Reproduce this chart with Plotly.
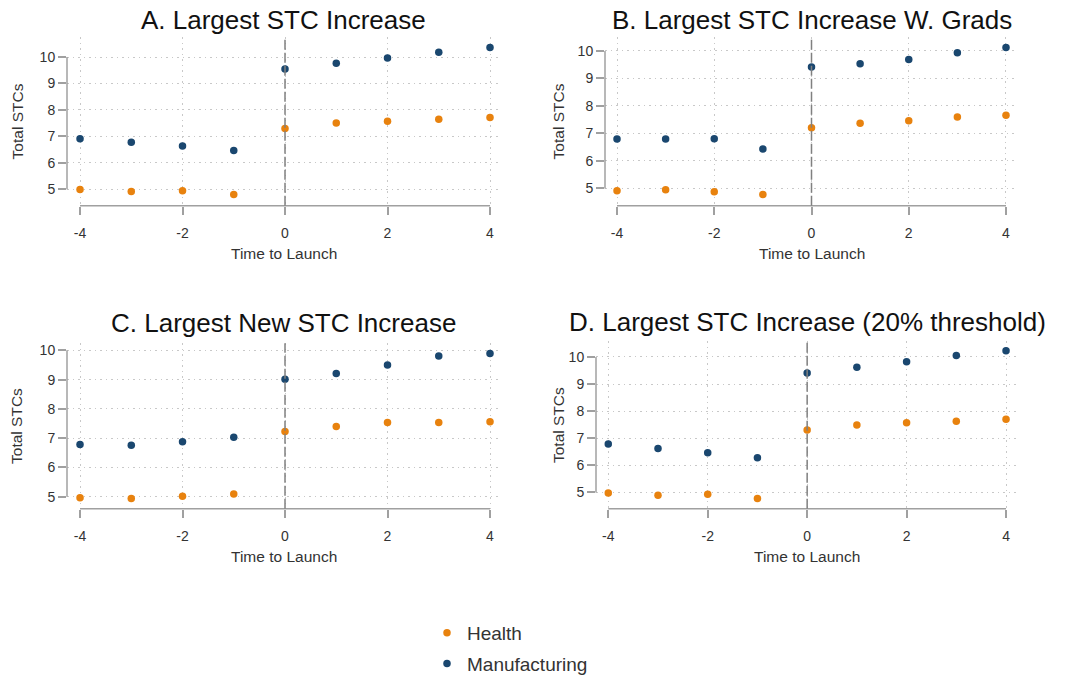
import plotly.graph_objects as go

W, H = 1083, 683

# Event time relative to launch
time_to_launch = [-4, -3, -2, -1, 0, 1, 2, 3, 4]

# Panel A: Largest STC Increase
a_health = [4.99, 4.91, 4.94, 4.80, 7.30, 7.50, 7.57, 7.65, 7.71]
a_manuf = [6.91, 6.78, 6.63, 6.46, 9.55, 9.76, 9.96, 10.18, 10.36]
# Panel B: Largest STC Increase W. Grads
b_health = [4.92, 4.95, 4.88, 4.78, 7.21, 7.37, 7.46, 7.60, 7.66]
b_manuf = [6.80, 6.80, 6.81, 6.44, 9.42, 9.54, 9.69, 9.94, 10.13]
# Panel C: Largest New STC Increase
c_health = [4.96, 4.94, 5.01, 5.09, 7.23, 7.40, 7.53, 7.53, 7.56]
c_manuf = [6.78, 6.76, 6.88, 7.03, 9.01, 9.21, 9.50, 9.81, 9.89]
# Panel D: Largest STC Increase (20% threshold)
d_health = [4.98, 4.90, 4.93, 4.78, 7.30, 7.49, 7.57, 7.63, 7.70]
d_manuf = [6.79, 6.62, 6.46, 6.28, 9.41, 9.62, 9.82, 10.05, 10.23]

panel_titles = [
    "A. Largest STC Increase",
    "B. Largest STC Increase W. Grads",
    "C. Largest New STC Increase",
    "D. Largest STC Increase (20% threshold)",
]
x_ticks = [-4, -2, 0, 2, 4]
x_ticktext = [str(v) for v in x_ticks]  # plain hyphen-minus
y_ticks = [5, 6, 7, 8, 9, 10]

HEALTH = "#e8820e"
MANUF = "#1a476f"
AXIS_GRAY = "#a0a0a0"
GRID_GRAY = "#c8c8c8"
TEXT = "#333333"
FONT = "Arial, Liberation Sans, sans-serif"

# plot-area geometry per panel, in pixels: (left, right, top, bottom), x range, y range
panels = [
    dict(px=(67, 500, 38, 211), xr=(-4.254, 4.195), yr=(4.373, 10.756),
         health=a_health, manuf=a_manuf, title_y=20, xt_y=260, yt_x=17),
    dict(px=(605, 1018, 38, 211), xr=(-4.247, 4.247), yr=(4.372, 10.507),
         health=b_health, manuf=b_manuf, title_y=20, xt_y=260, yt_x=558),
    dict(px=(67, 500, 352, 521.7), xr=(-4.254, 4.195), yr=(4.587, 10.243),
         health=c_health, manuf=c_manuf, title_y=331, xt_y=571, yt_x=17),
    dict(px=(596, 1018, 350, 521.7), xr=(-4.247, 4.241), yr=(4.399, 10.576),
         health=d_health, manuf=d_manuf, title_y=330, xt_y=571, yt_x=558),
]

fig = go.Figure()
shapes = []
annotations = []
layout_axes = {}

for i, p in enumerate(panels):
    n = "" if i == 0 else str(i + 1)
    xa, ya = "x" + n, "y" + n
    l, r, t, b = p["px"]

    for name, vals, col in [("Health", p["health"], HEALTH),
                            ("Manufacturing", p["manuf"], MANUF)]:
        fig.add_trace(go.Scatter(
            x=time_to_launch, y=vals, mode="markers", name=name,
            marker=dict(color=col, size=7.5, line=dict(width=0)),
            xaxis=xa, yaxis=ya, showlegend=(i == 0), legendgroup=name,
        ))

    common = dict(
        showline=False, zeroline=False, showgrid=True,
        gridcolor=GRID_GRAY, gridwidth=1, griddash="1.5px,4px",
        ticks="outside", ticklen=8, tickwidth=1.5, tickcolor=AXIS_GRAY,
        tickfont=dict(family=FONT, size=14, color=TEXT), fixedrange=True,
    )
    layout_axes["xaxis" + n] = dict(
        common, domain=[l / W, r / W], range=list(p["xr"]),
        tickvals=x_ticks, ticktext=x_ticktext, anchor=ya, ticklabelstandoff=6,
    )
    layout_axes["yaxis" + n] = dict(
        common, domain=[1 - b / H, 1 - t / H], range=list(p["yr"]),
        tickvals=y_ticks, anchor=xa,
    )

    # axis lines span only the tick range
    shapes.append(dict(type="line", xref=xa, yref=ya + " domain",
                       x0=-4, x1=4, y0=0, y1=0,
                       line=dict(color=AXIS_GRAY, width=1.5)))
    shapes.append(dict(type="line", xref=xa + " domain", yref=ya,
                       x0=0, x1=0, y0=5, y1=10,
                       line=dict(color=AXIS_GRAY, width=1.5)))
    # launch marker
    shapes.append(dict(type="line", xref=xa, yref=ya + " domain",
                       x0=0, x1=0, y0=0, y1=1,
                       line=dict(color="#808080", width=1.5, dash="10px,3px")))

    annotations.append(dict(
        text=panel_titles[i], xref="paper", yref="paper",
        x=(l + r) / 2 / W, y=1 - p["title_y"] / H,
        xanchor="center", yanchor="middle", showarrow=False,
        font=dict(family=FONT, size=26, color="#111111"),
    ))
    annotations.append(dict(
        text="Time to Launch", xref="paper", yref="paper",
        x=(l + r) / 2 / W, y=1 - p["xt_y"] / H,
        xanchor="center", yanchor="middle", showarrow=False,
        font=dict(family=FONT, size=15.5, color=TEXT),
    ))
    annotations.append(dict(
        text="Total STCs", xref="paper", yref="paper",
        x=p["yt_x"] / W, y=1 - (t + b) / 2 / H, textangle=-90,
        xanchor="center", yanchor="middle", showarrow=False,
        font=dict(family=FONT, size=15.5, color=TEXT),
    ))

fig.update_layout(
    width=W, height=H,
    margin=dict(l=0, r=0, t=0, b=0),
    paper_bgcolor="white", plot_bgcolor="white",
    showlegend=True,
    legend=dict(
        x=(447 - 20) / W, y=1 - 630 / H, xanchor="left", yanchor="top",
        font=dict(family=FONT, size=19, color=TEXT),
        traceorder="grouped", tracegroupgap=3,
        bgcolor="rgba(0,0,0,0)", borderwidth=0,
    ),
    shapes=shapes,
    annotations=annotations,
    **layout_axes,
)

fig.write_html("out.html")
